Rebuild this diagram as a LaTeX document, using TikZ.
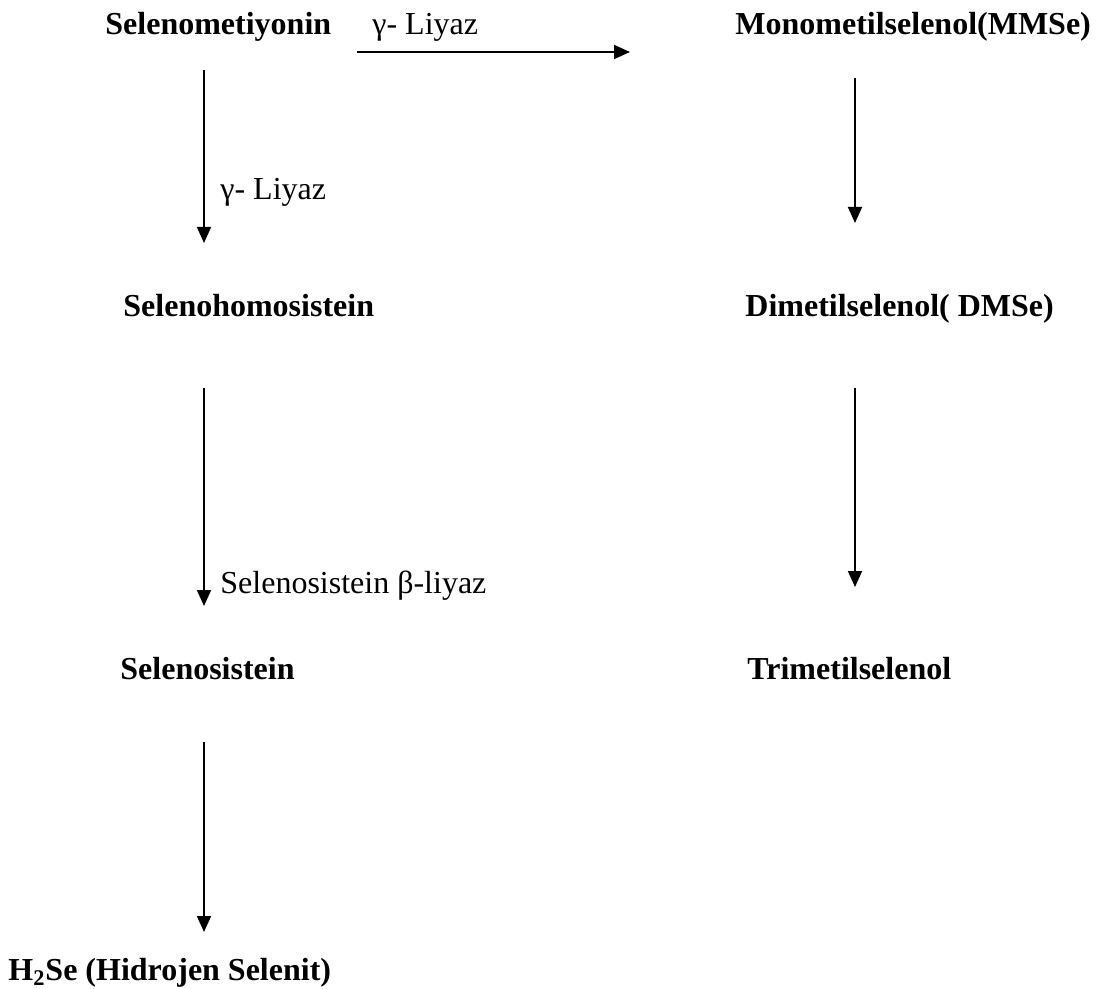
\documentclass[tikz,border=0pt]{standalone}
\usepackage{fontspec}
\setmainfont{Liberation Serif}
\usetikzlibrary{arrows.meta}
\begin{document}
\begin{tikzpicture}[x=0.5pt,y=-0.5pt,
  comp/.style={anchor=base west,inner sep=0pt,font=\fontsize{16}{19}\selectfont\bfseries},
  enz/.style={anchor=base west,inner sep=0pt,font=\fontsize{16}{19}\selectfont},
  conn/.style={line width=0.9pt,-{Triangle[length=8pt,width=7pt]}}]
\useasboundingbox (0,0) rectangle (1098,989);
\node[comp] (smet) at (105,35) {Selenometiyonin};
\node[comp] (mmse) at (735,35) {Monometilselenol(MMSe)};
\node[comp] (shc) at (123,317) {Selenohomosistein};
\node[comp] (dmse) at (745,317) {Dimetilselenol( DMSe)};
\node[comp] (scys) at (120,679) {Selenosistein};
\node[comp] (tmse) at (747,679) {Trimetilselenol};
\node[comp] (h2se) at (8,980) {H\textsubscript{2}Se (Hidrojen Selenit)};
\node[enz] (l1) at (372,35) {γ- Liyaz};
\node[enz] (l2) at (220,200) {γ- Liyaz};
\node[enz] (l3) at (220,593) {Selenosistein β-liyaz};
\coordinate (a1s) at (357,52); \coordinate (a1e) at (630,52);
\coordinate (a2s) at (204,70); \coordinate (a2e) at (204,243);
\coordinate (a3s) at (204,388); \coordinate (a3e) at (204,606);
\coordinate (a4s) at (204,742); \coordinate (a4e) at (204,932);
\coordinate (b1s) at (855,78); \coordinate (b1e) at (855,223);
\coordinate (b2s) at (855,388); \coordinate (b2e) at (855,587);
\draw[conn] (a1s) -- (a1e);
\draw[conn] (a2s) -- (a2e);
\draw[conn] (a3s) -- (a3e);
\draw[conn] (a4s) -- (a4e);
\draw[conn] (b1s) -- (b1e);
\draw[conn] (b2s) -- (b2e);
\end{tikzpicture}
\end{document}
